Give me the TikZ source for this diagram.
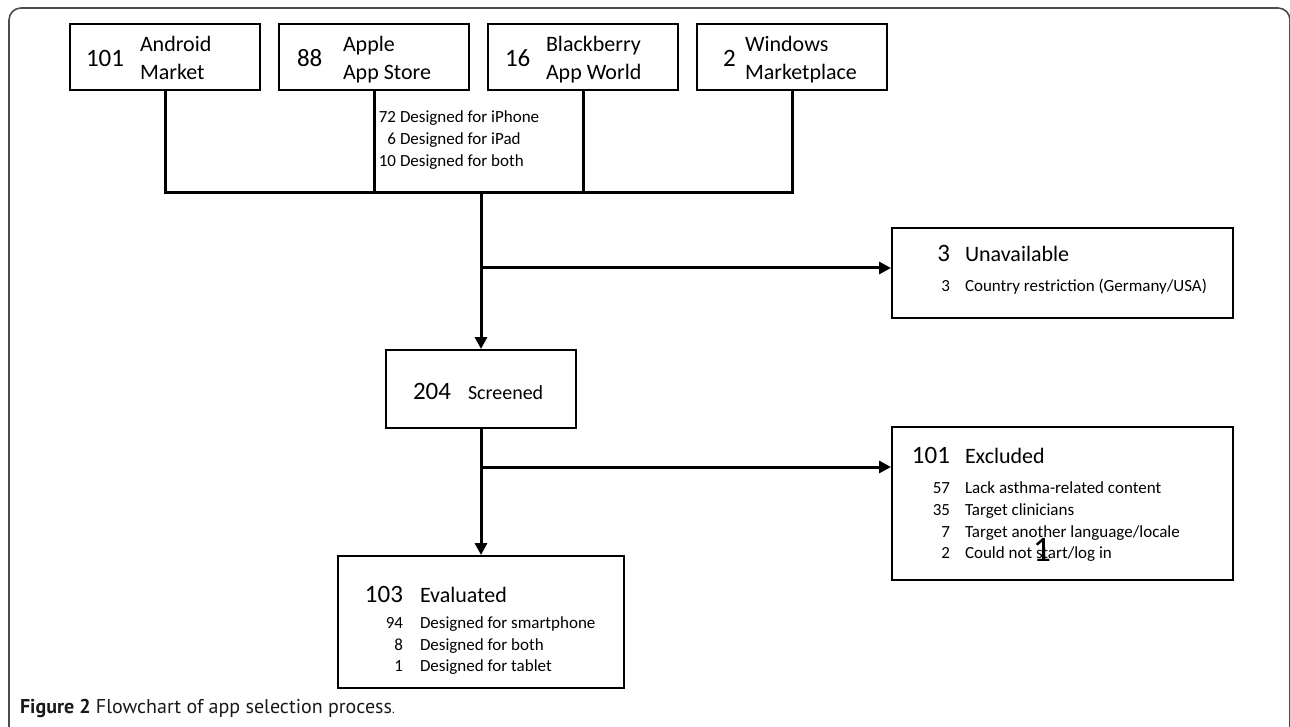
\documentclass[tikz,border=0pt]{standalone}
\usepackage{fontspec}
\setmainfont{Carlito}
\newfontfamily\capfont{PT Sans}
\usetikzlibrary{arrows.meta}
\newcommand\fs[2]{\fontsize{#1}{#2}\selectfont}
\tikzset{
  box/.style={draw=black, line width=2pt, fill=white, inner sep=0pt},
  conn/.style={draw=black, line width=3pt},
  arr/.style={conn, -{Triangle[length=12pt,width=12pt]}},
  lbl/.style={inner sep=0pt, outer sep=0pt},
  big/.style={lbl, font=\fs{25}{30}},
  mid/.style={lbl, font=\fs{22}{28}},
  small/.style={lbl, font=\fs{17}{22}},
}
\begin{document}
\begin{tikzpicture}[x=1pt,y=-1pt]
\useasboundingbox (0,0) rectangle (1290,727);
% outer frame
\draw[line width=1.6pt, draw=black!70, rounded corners=12pt] (9,738) -- (9,8) -- (1290,8) -- (1290,738);

% top boxes
\node[box, minimum width=190, minimum height=66] (android) at (165,57) {};
\node[box, minimum width=190, minimum height=66] (apple) at (374,57) {};
\node[box, minimum width=190, minimum height=66] (bberry) at (583,57) {};
\node[box, minimum width=190, minimum height=66] (windows) at (792,57) {};

\node[big, anchor=base west] (n-android) at (86,67) {101};
\node[mid, anchor=base west] (t-android1) at (140,52) {Android};
\node[mid, anchor=base west] (t-android2) at (140,80) {Market};

\node[big, anchor=base west] (n-apple) at (297,67) {88};
\node[mid, anchor=base west] (t-apple1) at (343,52) {Apple};
\node[mid, anchor=base west] (t-apple2) at (343,80) {App Store};

\node[big, anchor=base west] (n-bberry) at (505,67) {16};
\node[mid, anchor=base west] (t-bberry1) at (546,52) {Blackberry};
\node[mid, anchor=base west] (t-bberry2) at (546,80) {App World};

\node[big, anchor=base west] (n-windows) at (723,67) {2};
\node[mid, anchor=base west] (t-windows1) at (745,52) {Windows};
\node[mid, anchor=base west] (t-windows2) at (745,80) {Marketplace};

% apple breakdown
\node[small, anchor=base east] (ap-n1) at (396,123) {72};
\node[small, anchor=base west] (ap-t1) at (400,123) {Designed for iPhone};
\node[small, anchor=base east] (ap-n2) at (396,145) {6};
\node[small, anchor=base west] (ap-t2) at (400,145) {Designed for iPad};
\node[small, anchor=base east] (ap-n3) at (396,167) {10};
\node[small, anchor=base west] (ap-t3) at (400,167) {Designed for both};

% other boxes
\node[box, minimum width=190, minimum height=78] (screened) at (481,389) {};
\node[box, minimum width=341, minimum height=90] (unavail) at (1062.5,273) {};
\node[box, minimum width=341, minimum height=153] (excluded) at (1062.5,503.5) {};
\node[box, minimum width=286, minimum height=132] (evaluated) at (481,622) {};

% connectors
\coordinate (busC) at (481,193);
\draw[conn] (android.south) -- (android.south |- busC) -- (windows.south |- busC) -- (windows.south);
\draw[conn] (apple.south) -- (apple.south |- busC);
\draw[conn] (bberry.south) -- (bberry.south |- busC);
\draw[arr] (busC) -- (screened.north);
\coordinate (j1) at (481,268);
\draw[arr] (j1) -- (j1 -| unavail.west);
\draw[arr] (screened.south) -- (evaluated.north);
\coordinate (j2) at (481,467);
\draw[arr] (j2) -- (j2 -| excluded.west);

% screened text
\node[big, anchor=base west] (n-scr) at (413,399) {204};
\node[lbl, font=\fs{20}{24}, anchor=base west] (t-scr) at (468,399) {Screened};

% unavailable text
\node[big, anchor=base east] (n-un) at (950,262) {3};
\node[mid, anchor=base west] (t-un) at (965,262) {Unavailable};
\node[small, anchor=base east] (n-un1) at (950,291) {3};
\node[small, anchor=base west] (t-un1) at (965,291) {Country restriction (Germany/USA)};

% excluded text
\node[big, anchor=base east] (n-ex) at (950,463) {101};
\node[mid, anchor=base west] (t-ex) at (965,463) {Excluded};
\node[small, anchor=base east] (n-ex1) at (950,493) {57};
\node[small, anchor=base west] (t-ex1) at (965,493) {Lack asthma-related content};
\node[small, anchor=base east] (n-ex2) at (950,515) {35};
\node[small, anchor=base west] (t-ex2) at (965,515) {Target clinicians};
\node[small, anchor=base east] (n-ex3) at (950,537) {7};
\node[small, anchor=base west] (t-ex3) at (965,537) {Target another language/locale};
\node[small, anchor=base east] (n-ex4) at (950,558) {2};
\node[small, anchor=base west] (t-ex4) at (965,558) {Could not start/log in};
\node[lbl, font=\fs{36}{40}, anchor=base] (stray) at (1042,561) {1};

% evaluated text
\node[big, anchor=base east] (n-ev) at (403,602) {103};
\node[mid, anchor=base west] (t-ev) at (420,602) {Evaluated};
\node[small, anchor=base east] (n-ev1) at (403,628) {94};
\node[small, anchor=base west] (t-ev1) at (420,628) {Designed for smartphone};
\node[small, anchor=base east] (n-ev2) at (403,650) {8};
\node[small, anchor=base west] (t-ev2) at (420,650) {Designed for both};
\node[small, anchor=base east] (n-ev3) at (403,671) {1};
\node[small, anchor=base west] (t-ev3) at (420,671) {Designed for tablet};

% caption
\node[lbl, anchor=base west, text=black!90, font=\capfont\fs{20}{24}] (caption) at (20,713) {\textbf{Figure 2} Flowchart of app selection process{\fs{13}{14}.}};
\end{tikzpicture}
\end{document}
